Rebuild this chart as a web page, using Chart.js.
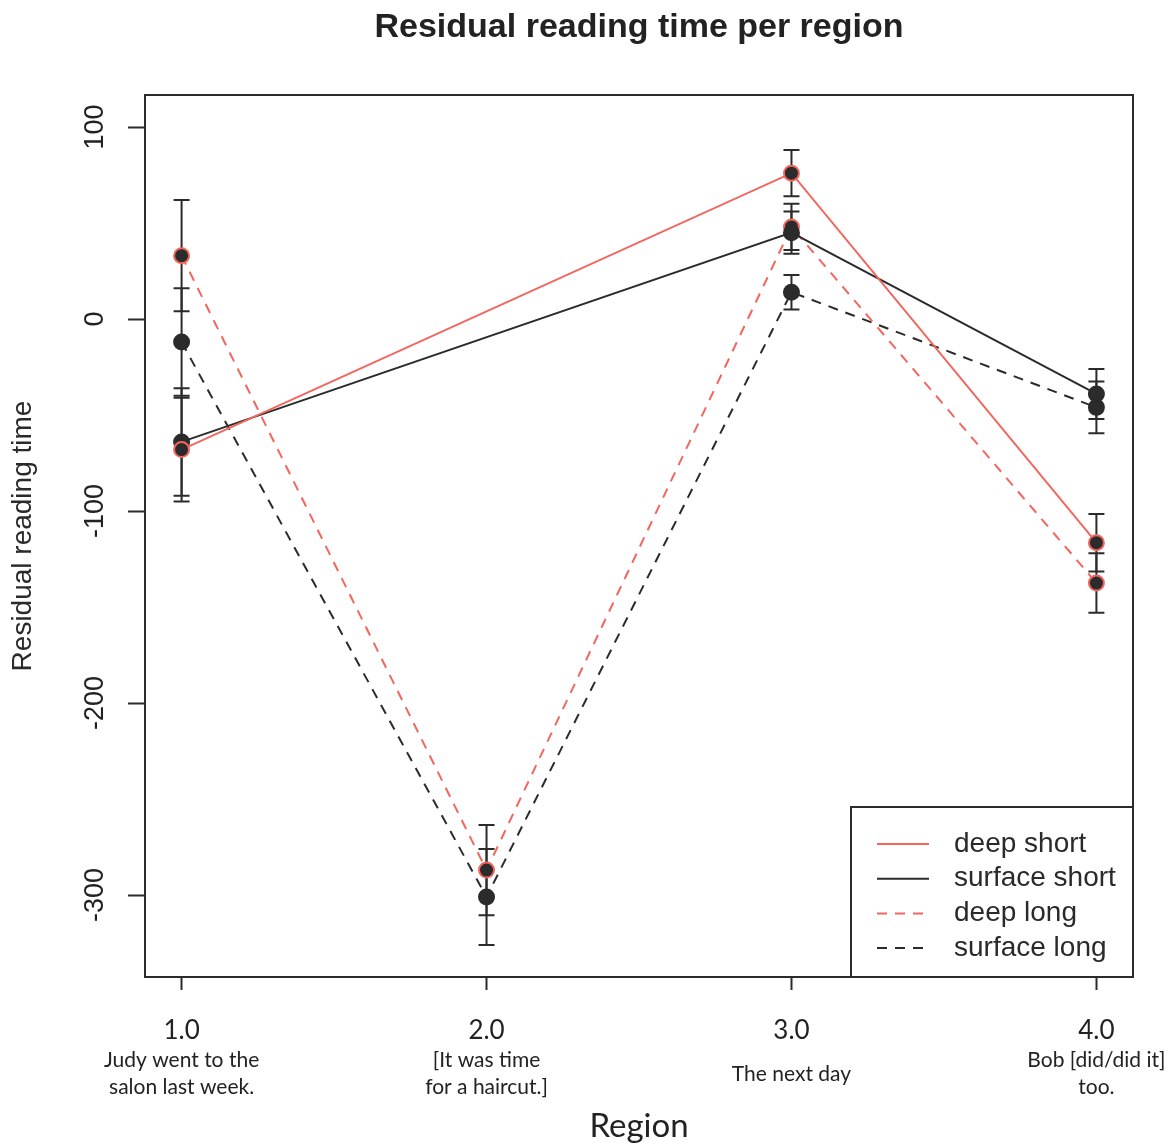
<!DOCTYPE html>
<html>
<head>
<meta charset="utf-8">
<script src="https://cdn.jsdelivr.net/npm/chart.js@4/dist/chart.umd.min.js"></script>
<style>
  html, body { margin: 0; padding: 0; background: #fff; }
  #wrap { width: 1168px; height: 1147px; }
</style>
</head>
<body>
<div id="wrap"><canvas id="chart" width="1168" height="1147"></canvas></div>
<script>
// regions on the x axis
const regions = [1, 2, 3, 4];
const xTickLabels = ['1.0', '2.0', '3.0', '4.0'];
const regionText = [
    ['Judy went to the', 'salon last week.'],
    ['[It was time', 'for a haircut.]'],
    ['The next day'],
    ['Bob [did/did it]', 'too.']
];

const yTicks = [100, 0, -100, -200, -300];
const yTickLabels = ['100', '0', '-100', '-200', '-300'];

// means (null = no value for that region)
const deepShort    = [-68, null, 76, -116.5];
const surfaceShort = [-64, null, 45, -39];
const deepLong     = [33, -287, 48, -137.5];
const surfaceLong  = [-12, -301, 14, -46];

// standard errors
const deepShortErr    = [27, null, 12, 15];
const surfaceShortErr = [28, null, 11, 13];
const deepLongErr     = [29, 23.5, 12, 15.5];
const surfaceLongErr  = [28, 25, 9, 13.5];

const RED = '#f2665e';
const DARK = '#2b2b2b';

function pts(vals) {
    return regions.map((r, i) => ({ x: r, y: vals[i] }));
}

function makeSet(label, vals, errs, color, dash) {
    return {
        label: label,
        data: pts(vals),
        errs: errs,
        borderColor: color,
        borderWidth: 2,
        borderDash: dash,
        pointRadius: 7.5,
        pointHoverRadius: 7.5,
        pointBackgroundColor: DARK,
        pointBorderColor: color,
        pointBorderWidth: 2,
        spanGaps: true,
        tension: 0,
        fill: false
    };
}

// error bars, frame, captions, legend
const extras = {
    id: 'extras',
    beforeDatasetsDraw(chart) {
        const ctx = chart.ctx;
        const xs = chart.scales.x, ys = chart.scales.y;
        ctx.save();
        ctx.strokeStyle = DARK;
        ctx.lineWidth = 2;
        chart.data.datasets.forEach(ds => {
            ds.data.forEach((p, i) => {
                const e = ds.errs[i];
                if (p.y === null || e === null) return;
                const px = xs.getPixelForValue(p.x);
                const top = ys.getPixelForValue(p.y + e);
                const bot = ys.getPixelForValue(p.y - e);
                ctx.beginPath();
                ctx.moveTo(px, top); ctx.lineTo(px, bot);
                ctx.moveTo(px - 8, top); ctx.lineTo(px + 8, top);
                ctx.moveTo(px - 8, bot); ctx.lineTo(px + 8, bot);
                ctx.stroke();
            });
        });
        ctx.restore();
    },
    afterDraw(chart) {
        const ctx = chart.ctx;
        const a = chart.chartArea;
        const xs = chart.scales.x;
        ctx.save();
        // frame
        ctx.strokeStyle = DARK;
        ctx.lineWidth = 2;
        ctx.strokeRect(a.left, a.top, a.right - a.left, a.bottom - a.top);

        // region captions under the tick numbers
        ctx.fillStyle = '#222';
        ctx.font = '21px Lato';
        ctx.textAlign = 'center';
        ctx.textBaseline = 'middle';
        regionText.forEach((lines, i) => {
            const px = xs.getPixelForValue(regions[i]);
            const y0 = lines.length === 1 ? a.bottom + 97 : a.bottom + 83;
            lines.forEach((t, j) => ctx.fillText(t, px, y0 + j * 27));
        });

        // legend box in bottom right corner
        const w = 282, h = 170;
        const lx = a.right - w, ly = a.bottom - h;
        ctx.fillStyle = '#fff';
        ctx.fillRect(lx, ly, w, h);
        ctx.strokeRect(lx, ly, w, h);
        ctx.font = '28px "Liberation Sans", Arial, sans-serif';
        ctx.textAlign = 'left';
        chart.data.datasets.forEach((ds, i) => {
            const y = ly + 37 + i * 34.7;
            ctx.strokeStyle = ds.borderColor;
            ctx.lineWidth = 2;
            ctx.setLineDash(ds.borderDash);
            ctx.beginPath();
            ctx.moveTo(lx + 26, y); ctx.lineTo(lx + 78, y);
            ctx.stroke();
            ctx.setLineDash([]);
            ctx.fillStyle = '#2a2a2a';
            ctx.fillText(ds.label, lx + 103, y);
        });
        ctx.restore();
    }
};

new Chart(document.getElementById('chart'), {
    type: 'line',
    data: {
        datasets: [
            makeSet('deep short', deepShort, deepShortErr, RED, []),
            makeSet('surface short', surfaceShort, surfaceShortErr, DARK, []),
            makeSet('deep long', deepLong, deepLongErr, RED, [10, 8]),
            makeSet('surface long', surfaceLong, surfaceLongErr, DARK, [10, 8])
        ]
    },
    options: {
        responsive: false,
        animation: false,
        layout: { padding: { left: 0, right: 35, top: 0, bottom: 0 } },
        plugins: {
            legend: { display: false },
            tooltip: { enabled: false },
            title: {
                display: true,
                fullSize: false,
                text: 'Residual reading time per region',
                color: '#222',
                font: { family: '"Liberation Sans", Arial, sans-serif', size: 34, weight: 'bold' },
                padding: { top: 7, bottom: 47.2 }
            }
        },
        scales: {
            x: {
                type: 'linear',
                min: 0.88,
                max: 4.12,
                afterBuildTicks: (s) => { s.ticks = regions.map(v => ({ value: v })); },
                afterFit: (s) => { s.height = 170; },
                grid: { drawOnChartArea: false, drawTicks: true, tickLength: 13, tickColor: DARK, tickWidth: 2 },
                border: { display: false },
                ticks: {
                    color: '#222',
                    font: { family: 'Lato', size: 26 },
                    padding: 25,
                    maxRotation: 0,
                    callback: (v, i) => xTickLabels[i]
                },
                title: {
                    display: true,
                    text: 'Region',
                    color: '#222',
                    font: { family: 'Lato', size: 33 },
                    padding: { top: 0, bottom: 1 }
                }
            },
            y: {
                min: -342.7,
                max: 116.7,
                afterBuildTicks: (s) => { s.ticks = yTicks.map(v => ({ value: v })); },
                afterFit: (s) => { s.width = 145; },
                grid: { drawOnChartArea: false, drawTicks: true, tickLength: 17, tickColor: DARK, tickWidth: 2 },
                border: { display: false },
                ticks: {
                    color: '#222',
                    font: { family: '"Liberation Sans", Arial, sans-serif', size: 27 },
                    minRotation: 90,
                    maxRotation: 90,
                    crossAlign: 'center',
                    padding: 5,
                    callback: (v, i) => yTickLabels[i]
                },
                title: {
                    display: true,
                    text: 'Residual reading time',
                    color: '#2a2a2a',
                    font: { family: '"Liberation Sans", Arial, sans-serif', size: 28 },
                    padding: { top: 6, bottom: 0 }
                }
            }
        }
    },
    plugins: [extras]
});
</script>
</body>
</html>
